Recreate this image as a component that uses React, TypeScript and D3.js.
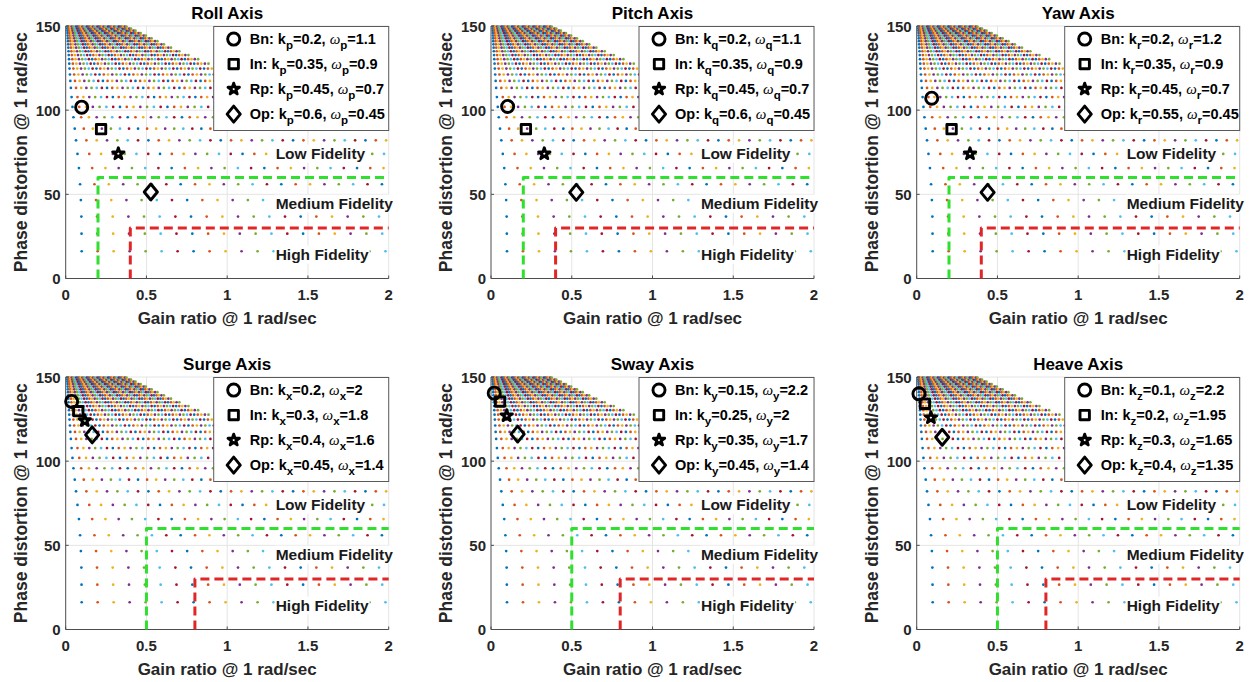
import { useEffect } from "react";
import * as d3 from "d3";

const W = 1255;
const H = 682;

// MATLAB default colour order, one colour per k series
const seriesColors = ["#0072BD", "#D95319", "#EDB120", "#7E2F8E", "#77AC30", "#4DBEEE", "#A2142F"];

// sweep grid: one row per break frequency (phase at 1 rad/s) and the gain step between k values
const rowPhase = [16.2, 26.6, 36.8, 46.6, 56.0, 65.6, 74.0, 82.1, 89.0, 95.8, 101.9, 107.8, 113.2, 117.4, 121.2,
  124.7, 127.6, 130.3, 132.7, 135.0, 137.1, 139.1, 141.0, 142.7, 144.3, 145.8, 147.2, 148.5, 149.7];
const rowGainStep = [0.099, 0.098, 0.097, 0.094, 0.089, 0.082, 0.073, 0.064, 0.056, 0.048, 0.042, 0.0365, 0.032,
  0.0288, 0.0262, 0.0238, 0.0221, 0.0205, 0.019, 0.0176, 0.0163, 0.0152, 0.0142, 0.0133, 0.0124, 0.0116, 0.0108,
  0.0101, 0.0094];
const kIndex = d3.range(1, 41);

const panelTitles = ["Roll Axis", "Pitch Axis", "Yaw Axis", "Surge Axis", "Sway Axis", "Heave Axis"];
const panelSub = ["p", "q", "r", "x", "y", "z"];
const designNames = ["Bn", "In", "Rp", "Op"];
const kLabels = [
  ["0.2", "0.35", "0.45", "0.6"],
  ["0.2", "0.35", "0.45", "0.6"],
  ["0.2", "0.35", "0.45", "0.55"],
  ["0.2", "0.3", "0.4", "0.45"],
  ["0.15", "0.25", "0.35", "0.45"],
  ["0.1", "0.2", "0.3", "0.4"],
];
const wLabels = [
  ["1.1", "0.9", "0.7", "0.45"],
  ["1.1", "0.9", "0.7", "0.45"],
  ["1.2", "0.9", "0.7", "0.45"],
  ["2", "1.8", "1.6", "1.4"],
  ["2.2", "2", "1.7", "1.4"],
  ["2.2", "1.95", "1.65", "1.35"],
];
const designGain = [
  [0.099, 0.219, 0.326, 0.527],
  [0.103, 0.216, 0.33, 0.528],
  [0.093, 0.216, 0.33, 0.439],
  [0.037, 0.078, 0.118, 0.164],
  [0.02, 0.056, 0.097, 0.165],
  [0.014, 0.051, 0.088, 0.158],
];
const designPhase = [
  [101.8, 88.7, 74.1, 51.4],
  [102.2, 88.7, 74.1, 51.2],
  [107.1, 88.7, 74.1, 51.2],
  [135.5, 129.7, 124.1, 115.6],
  [140.4, 135.4, 127.0, 116.1],
  [140.0, 134.1, 125.8, 114.2],
];
const mediumGain = [0.2, 0.2, 0.2, 0.5, 0.5, 0.5];
const highGain = [0.4, 0.4, 0.4, 0.8, 0.8, 0.8];
const mediumPhase = 60;
const highPhase = 30;

const fidelityLabels = ["Low Fidelity", "Medium Fidelity", "High Fidelity"];
const fidelityGain = [1.3, 1.3, 1.3];
const fidelityPhase = [74.1, 44.5, 14.2];

const xTicks = [0, 0.5, 1, 1.5, 2];
const yTicks = [0, 50, 100, 150];

// layout
const colLeft = [65.7, 491, 916.7];
const rowTop = [26, 377];
const plotW = 323;
const plotH = 252.5;
const FONT = "'Liberation Sans', Arial, sans-serif";

const ctx = typeof document !== "undefined" ? document.createElement("canvas").getContext("2d") : null;
function textWidth(t: string, font: string) {
  if (!ctx) return t.length * 8;
  ctx.font = font;
  return ctx.measureText(t).width;
}

const diamondPath = "M0,-8L6.6,0L0,8L-6.6,0Z";
const markerPaths = [
  d3.symbol(d3.symbolCircle, 115)() as string,
  d3.symbol(d3.symbolSquare, 88)() as string,
  d3.symbol(d3.symbolStar, 40)() as string,
  diamondPath,
];

function Marker({ i, cx, cy }: { i: number; cx: number; cy: number }) {
  return (
    <path
      d={markerPaths[i]}
      transform={`translate(${cx},${cy})`}
      fill="none"
      stroke="#000"
      strokeWidth={2.9}
      strokeLinejoin="round"
    />
  );
}

function Panel({ idx }: { idx: number }) {
  const col = idx % 3;
  const row = Math.floor(idx / 3);
  const left = colLeft[col];
  const top = rowTop[row];
  const x = d3.scaleLinear().domain([0, 2]).range([left, left + plotW]);
  const y = d3.scaleLinear().domain([0, 150]).range([top + plotH, top]);
  const line = d3.line<[number, number]>().x((d) => x(d[0])).y((d) => y(d[1]));

  const dots: JSX.Element[] = [];
  rowPhase.forEach((ph, i) => {
    kIndex.forEach((j) => {
      const g = j * rowGainStep[i];
      if (g > 2) return;
      dots.push(
        <circle key={`${i}-${j}`} cx={x(g)} cy={y(ph)} r={1.35} fill={seriesColors[(j - 1) % seriesColors.length]} />
      );
    });
  });

  const legW = 175;
  const legH = 104;
  const legX = x(2) - legW;
  const legY = top + 0.5;
  const sub = panelSub[idx];
  const fidFont = `bold 15.5px ${FONT}`;

  return (
    <g>
      {/* grid */}
      {xTicks.slice(1).map((t) => (
        <line key={`gx${t}`} x1={x(t)} x2={x(t)} y1={y(0)} y2={y(150)} stroke="#e4e4e4" strokeWidth={1} />
      ))}
      {yTicks.slice(1).map((t) => (
        <line key={`gy${t}`} x1={x(0)} x2={x(2)} y1={y(t)} y2={y(t)} stroke="#e4e4e4" strokeWidth={1} />
      ))}
      <g>{dots}</g>
      {/* axes */}
      <line x1={x(0)} x2={x(0)} y1={y(0)} y2={y(150)} stroke="#4d4d4d" strokeWidth={1} />
      <line x1={x(0)} x2={x(2)} y1={y(0)} y2={y(0)} stroke="#4d4d4d" strokeWidth={1} />
      {xTicks.map((t) => (
        <g key={`xt${t}`}>
          <line x1={x(t)} x2={x(t)} y1={y(0)} y2={y(0) - 3} stroke="#4d4d4d" />
          <text x={x(t)} y={y(0) + 21} textAnchor="middle" fontFamily={FONT} fontWeight="bold" fontSize={15} fill="#262626">
            {t}
          </text>
        </g>
      ))}
      {yTicks.map((t) => (
        <g key={`yt${t}`}>
          <line x1={x(0)} x2={x(0) + 3} y1={y(t)} y2={y(t)} stroke="#4d4d4d" />
          <text x={x(0) - 5} y={y(t) + 5.5} textAnchor="end" fontFamily={FONT} fontWeight="bold" fontSize={15} fill="#262626">
            {t}
          </text>
        </g>
      ))}
      {/* fidelity boundaries */}
      <path
        d={line([[mediumGain[idx], 0], [mediumGain[idx], mediumPhase], [2, mediumPhase]]) as string}
        fill="none"
        stroke="#2fe02f"
        strokeWidth={3}
        strokeDasharray="9,5"
        strokeLinejoin="round"
      />
      <path
        d={line([[highGain[idx], 0], [highGain[idx], highPhase], [2, highPhase]]) as string}
        fill="none"
        stroke="#e02626"
        strokeWidth={3}
        strokeDasharray="9,5"
        strokeLinejoin="round"
      />
      {fidelityLabels.map((lab, i) => {
        const tw = textWidth(lab, fidFont);
        const tx = x(fidelityGain[i]);
        const ty = y(fidelityPhase[i]);
        return (
          <g key={lab}>
            <rect x={tx - 1} y={ty - 9} width={tw + 2} height={18} fill="#fff" />
            <text x={tx} y={ty + 5.5} fontFamily={FONT} fontWeight="bold" fontSize={15.5} fill="#1a1a1a">
              {lab}
            </text>
          </g>
        );
      })}
      {/* design points */}
      {designNames.map((n, i) => (
        <Marker key={n} i={i} cx={x(designGain[idx][i])} cy={y(designPhase[idx][i])} />
      ))}
      {/* legend */}
      <rect x={legX} y={legY} width={legW} height={legH} fill="#fff" stroke="#5a5a5a" strokeWidth={1} />
      {designNames.map((n, i) => {
        const cy = legY + 12.6 + i * 25;
        return (
          <g key={`lg${n}`}>
            <Marker i={i} cx={legX + 20} cy={cy} />
            <text x={legX + 36} y={cy + 5} fontFamily={FONT} fontWeight="bold" fontSize={14.5} fill="#000">
              <tspan>{`${n}: k`}</tspan>
              <tspan dy={5} fontSize={11.5}>{sub}</tspan>
              <tspan dy={-5}>{`=${kLabels[idx][i]}, `}</tspan>
              <tspan fontFamily="'Liberation Serif', serif" fontStyle="italic" fontWeight="normal" fontSize={15}>
                ω
              </tspan>
              <tspan dy={5} fontSize={11.5}>{sub}</tspan>
              <tspan dy={-5}>{`=${wLabels[idx][i]}`}</tspan>
            </text>
          </g>
        );
      })}
      {/* labels */}
      <text x={x(1)} y={top - 7} textAnchor="middle" fontFamily={FONT} fontWeight="bold" fontSize={17} fill="#000">
        {panelTitles[idx]}
      </text>
      <text x={x(1)} y={y(0) + 45} textAnchor="middle" fontFamily={FONT} fontWeight="bold" fontSize={17} fill="#262626">
        Gain ratio @ 1 rad/sec
      </text>
      <text
        transform={`translate(${left - 39},${top + plotH / 2}) rotate(-90)`}
        textAnchor="middle"
        fontFamily={FONT}
        fontWeight="bold"
        fontSize={17.5}
        fill="#262626"
      >
        Phase distortion @ 1 rad/sec
      </text>
    </g>
  );
}

export default function App() {
  useEffect(() => {
    document.body.style.margin = "0";
  }, []);
  return (
    <svg width={W} height={H} style={{ position: "absolute", left: 0, top: 0, background: "#fff" }}>
      <rect width={W} height={H} fill="#fff" />
      {panelTitles.map((t, i) => (
        <Panel key={t} idx={i} />
      ))}
    </svg>
  );
}
